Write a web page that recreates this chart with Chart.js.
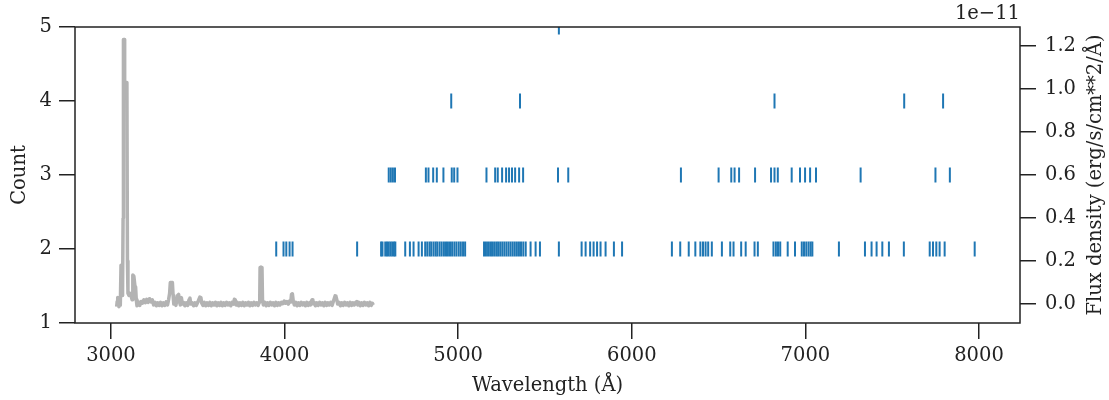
<!DOCTYPE html>
<html>
<head>
<meta charset="utf-8">
<script src="https://cdn.jsdelivr.net/npm/chart.js@4/dist/chart.umd.min.js"></script>
<style>
  html, body { margin: 0; padding: 0; background: #fff; }
  #wrap { width: 1109px; height: 400px; }
</style>
</head>
<body>
<div id="wrap"><canvas id="c" width="1109" height="400"></canvas></div>
<script>
// line list: wavelength (A) of each line, grouped by count
const lines2 = [3952, 3994, 4010, 4029, 4046, 4418,
  4556, 4564, 4580, 4590, 4600, 4610, 4620, 4630, 4638,
  4695, 4722, 4743, 4772, 4791,
  4810, 4822, 4835, 4845, 4858, 4870, 4880, 4893, 4905, 4918, 4930, 4941, 4953, 4965, 4978, 4990, 5003, 5015, 5028, 5040,
  5149, 5160, 5172, 5184, 5195, 5207, 5219, 5230, 5242, 5254, 5266, 5278, 5290, 5302, 5314, 5326, 5338, 5350, 5362, 5375, 5389,
  5417, 5446, 5471, 5580, 5711, 5734, 5760, 5780, 5800, 5820, 5849, 5897, 5944,
  6231, 6279, 6328, 6366, 6395, 6410, 6425, 6440, 6461, 6519,
  6567, 6586, 6630, 6656, 6707, 6726, 6816, 6830, 6842, 6855, 6898, 6940,
  6979, 6992, 7005, 7018, 7030, 7040, 7193, 7343, 7381, 7410, 7443, 7481, 7567,
  7716, 7735, 7754, 7773, 7802, 7975];
const lines3 = [4600, 4612, 4624, 4636, 4814, 4829, 4856, 4877, 4915, 4963, 4977, 4996,
  5163, 5213, 5228, 5253, 5276, 5293, 5310, 5328, 5351, 5374, 5575, 5634,
  6283, 6500, 6573, 6592, 6618, 6710, 6802, 6822, 6841, 6921, 6969, 6998, 7027, 7061,
  7318, 7749, 7832];
const lines4 = [4960, 5356, 6822, 7569, 7793];
const lines5 = [5580];

// spectrum: [wavelength (A), flux density (1e-11 erg/s/cm**2/A)]
const spectrum = [
  [3033, -0.012], [3036, 0.012], [3039, 0.03], [3042, 0.0], [3046, -0.012], [3050, 0.015], [3054, -0.005],
  [3058, 0.18], [3061, 0.16], [3064, 0.04], [3067, 0.06], [3070, 0.4], [3072, 1.23], [3076, 1.23],
  [3079, 1.03], [3092, 1.03], [3095, 0.2], [3098, 0.05], [3104, 0.04], [3110, 0.05], [3116, 0.04],
  [3122, 0.02], [3126, 0.135], [3132, 0.13], [3138, 0.085], [3142, 0.08], [3146, 0.02],
  [3150, -0.008], [3158, 0.01], [3166, -0.006], [3174, 0.012], [3182, 0.004], [3190, 0.02], [3198, 0.006],
  [3206, 0.022], [3214, 0.008], [3222, 0.025], [3230, 0.01], [3238, 0.02], [3246, -0.004], [3254, 0.008],
  [3262, -0.008], [3270, 0.006], [3278, -0.006], [3286, 0.008], [3294, -0.008], [3302, 0.006], [3310, -0.006],
  [3318, 0.01], [3326, -0.004], [3332, 0.02], [3338, 0.05], [3342, 0.1], [3346, 0.1], [3350, 0.07],
  [3354, 0.1], [3358, 0.04], [3362, 0.0], [3368, 0.01], [3374, -0.006], [3380, 0.02], [3384, 0.04],
  [3390, 0.045], [3395, 0.01], [3400, -0.004], [3406, 0.03], [3411, 0.0], [3418, 0.008], [3426, -0.008],
  [3434, 0.006], [3442, -0.006], [3450, 0.02], [3455, 0.028], [3460, 0.0], [3468, 0.006], [3476, -0.008],
  [3484, 0.006], [3492, -0.006], [3500, 0.008], [3506, 0.02], [3512, 0.032], [3518, 0.03], [3523, 0.004],
  [3530, -0.006], [3538, 0.008], [3546, -0.008], [3554, 0.006], [3562, -0.006], [3570, 0.008], [3578, -0.008],
  [3586, 0.006], [3594, -0.004], [3602, 0.008], [3610, -0.008], [3618, 0.006], [3626, -0.006], [3634, 0.008],
  [3642, -0.008], [3650, 0.006], [3658, -0.006], [3666, 0.008], [3674, -0.004], [3682, 0.006], [3690, -0.008],
  [3698, 0.008], [3706, 0.0], [3711, 0.022], [3716, 0.02], [3721, -0.004], [3728, 0.008], [3736, -0.008],
  [3744, 0.006], [3752, -0.006], [3760, 0.008], [3768, -0.008], [3776, 0.006], [3784, -0.004], [3792, 0.008],
  [3800, -0.008], [3808, 0.006], [3816, -0.006], [3824, 0.008], [3832, -0.004], [3840, 0.006], [3848, -0.006],
  [3854, 0.008], [3857, 0.02], [3859, 0.17], [3864, 0.172], [3870, 0.17], [3873, 0.02], [3878, -0.004],
  [3886, 0.008], [3894, -0.008], [3902, 0.006], [3910, -0.006], [3918, 0.008], [3926, -0.004], [3934, 0.006],
  [3942, -0.008], [3950, 0.008], [3958, -0.006], [3966, 0.006], [3974, -0.004], [3982, 0.008], [3990, 0.002],
  [3998, 0.014], [4006, 0.004], [4014, 0.012], [4022, 0.0], [4030, 0.015], [4036, 0.01], [4040, 0.045],
  [4045, 0.048], [4050, 0.015], [4056, -0.004], [4064, 0.008], [4072, -0.008], [4080, 0.006], [4088, -0.006],
  [4096, 0.008], [4104, -0.004], [4112, 0.006], [4120, -0.008], [4128, 0.008], [4136, -0.006], [4144, 0.006],
  [4150, -0.004], [4155, 0.015], [4159, 0.02], [4163, 0.002], [4170, 0.008], [4178, -0.008], [4186, 0.006],
  [4194, -0.006], [4202, 0.008], [4210, -0.004], [4218, 0.006], [4226, -0.008], [4234, 0.008], [4242, -0.006],
  [4250, 0.006], [4258, -0.004], [4266, 0.008], [4274, -0.006], [4280, 0.01], [4286, 0.025], [4291, 0.038],
  [4296, 0.035], [4301, 0.02], [4306, 0.0], [4314, 0.008], [4322, -0.008], [4330, 0.006], [4338, -0.006],
  [4346, 0.008], [4354, -0.004], [4362, 0.006], [4370, -0.008], [4378, 0.008], [4386, -0.006], [4394, 0.006],
  [4402, -0.004], [4410, 0.008], [4416, 0.012], [4421, -0.004], [4428, 0.008], [4436, -0.008], [4444, 0.006],
  [4452, -0.006], [4460, 0.008], [4468, -0.004], [4476, 0.006], [4484, -0.008], [4492, 0.008], [4500, -0.006],
  [4506, 0.004], [4511, -0.004]
];

const xTicks = [3000, 4000, 5000, 6000, 7000, 8000];
const countTicks = [1, 2, 3, 4, 5];
const fluxTicks = [0.0, 0.2, 0.4, 0.6, 0.8, 1.0, 1.2];

const FONT = 'DejaVu Serif';
const FS = 19.5;
const INK = '#222';
const BLUE = '#1f77b4';

function lineSet(ws, n) {
  return {
    type: 'scatter', data: ws.map(w => ({ x: w, y: n })), yAxisID: 'y',
    pointStyle: 'line', rotation: 90, pointRadius: 7.5, pointHoverRadius: 7.5,
    borderColor: BLUE, backgroundColor: BLUE, pointBorderWidth: 2, borderWidth: 2, clip: 0
  };
}

// box around the axes, offset text and the right axis label (reads bottom to top)
const frame = {
  id: 'frame',
  afterDraw(chart) {
    const { ctx, chartArea: a } = chart;
    ctx.save();
    ctx.strokeStyle = INK;
    ctx.lineWidth = 1.5;
    ctx.strokeRect(a.left, a.top, a.right - a.left, a.bottom - a.top);
    ctx.fillStyle = INK;
    ctx.font = FS + 'px "' + FONT + '"';
    ctx.textAlign = 'right';
    ctx.textBaseline = 'alphabetic';
    ctx.fillText('1e\u221211', a.right, 19);
    ctx.translate(1096, (a.top + a.bottom) / 2);
    ctx.rotate(-Math.PI / 2);
    ctx.textAlign = 'center';
    ctx.textBaseline = 'middle';
    ctx.fillText('Flux density (erg/s/cm**2/\u00c5)', 0, 0);
    ctx.restore();
  }
};

function setTicks(list) {
  return scale => { scale.ticks = list.map(v => ({ value: v })); };
}

const tickGrid = { drawOnChartArea: false, drawTicks: true, tickLength: 16, color: INK, lineWidth: 1.5 };

new Chart(document.getElementById('c'), {
  type: 'scatter',
  data: {
    datasets: [
      lineSet(lines2, 2), lineSet(lines3, 3), lineSet(lines4, 4), lineSet(lines5, 5),
      {
        type: 'line', yAxisID: 'y2',
        data: spectrum.map(p => ({ x: p[0], y: p[1] })),
        borderColor: '#b3b3b3', borderWidth: 3.5, borderJoinStyle: 'round',
        pointRadius: 0, tension: 0, clip: 0
      }
    ]
  },
  options: {
    responsive: false,
    animation: false,
    events: [],
    layout: { padding: { top: 27, left: 0, right: 0, bottom: 0 } },
    plugins: { legend: { display: false }, tooltip: { enabled: false } },
    scales: {
      x: {
        type: 'linear', min: 2793, max: 8236,
        afterBuildTicks: setTicks(xTicks),
        afterFit: s => { s.height = 77; },
        grid: tickGrid,
        border: { display: false },
        ticks: { font: { family: FONT, size: FS }, color: INK, padding: 5, maxRotation: 0, callback: v => String(v) },
        title: { display: true, text: 'Wavelength (\u00c5)', font: { family: FONT, size: FS }, color: INK, padding: { top: 0, bottom: 2 } }
      },
      y: {
        position: 'left', min: 1, max: 5,
        afterBuildTicks: setTicks(countTicks),
        afterFit: s => { s.width = 75; },
        grid: tickGrid,
        border: { display: false },
        ticks: { font: { family: FONT, size: FS }, color: INK, padding: 7, callback: v => String(v) },
        title: { display: true, text: 'Count', font: { family: FONT, size: FS }, color: INK, padding: { top: 8, bottom: 0 } }
      },
      y2: {
        position: 'right', min: -0.088, max: 1.288,
        afterBuildTicks: setTicks(fluxTicks),
        afterFit: s => { s.width = 89; },
        grid: tickGrid,
        border: { display: false },
        ticks: { font: { family: FONT, size: FS }, color: INK, padding: 9, callback: v => v.toFixed(1) }
      }
    }
  },
  plugins: [frame]
});
</script>
</body>
</html>
